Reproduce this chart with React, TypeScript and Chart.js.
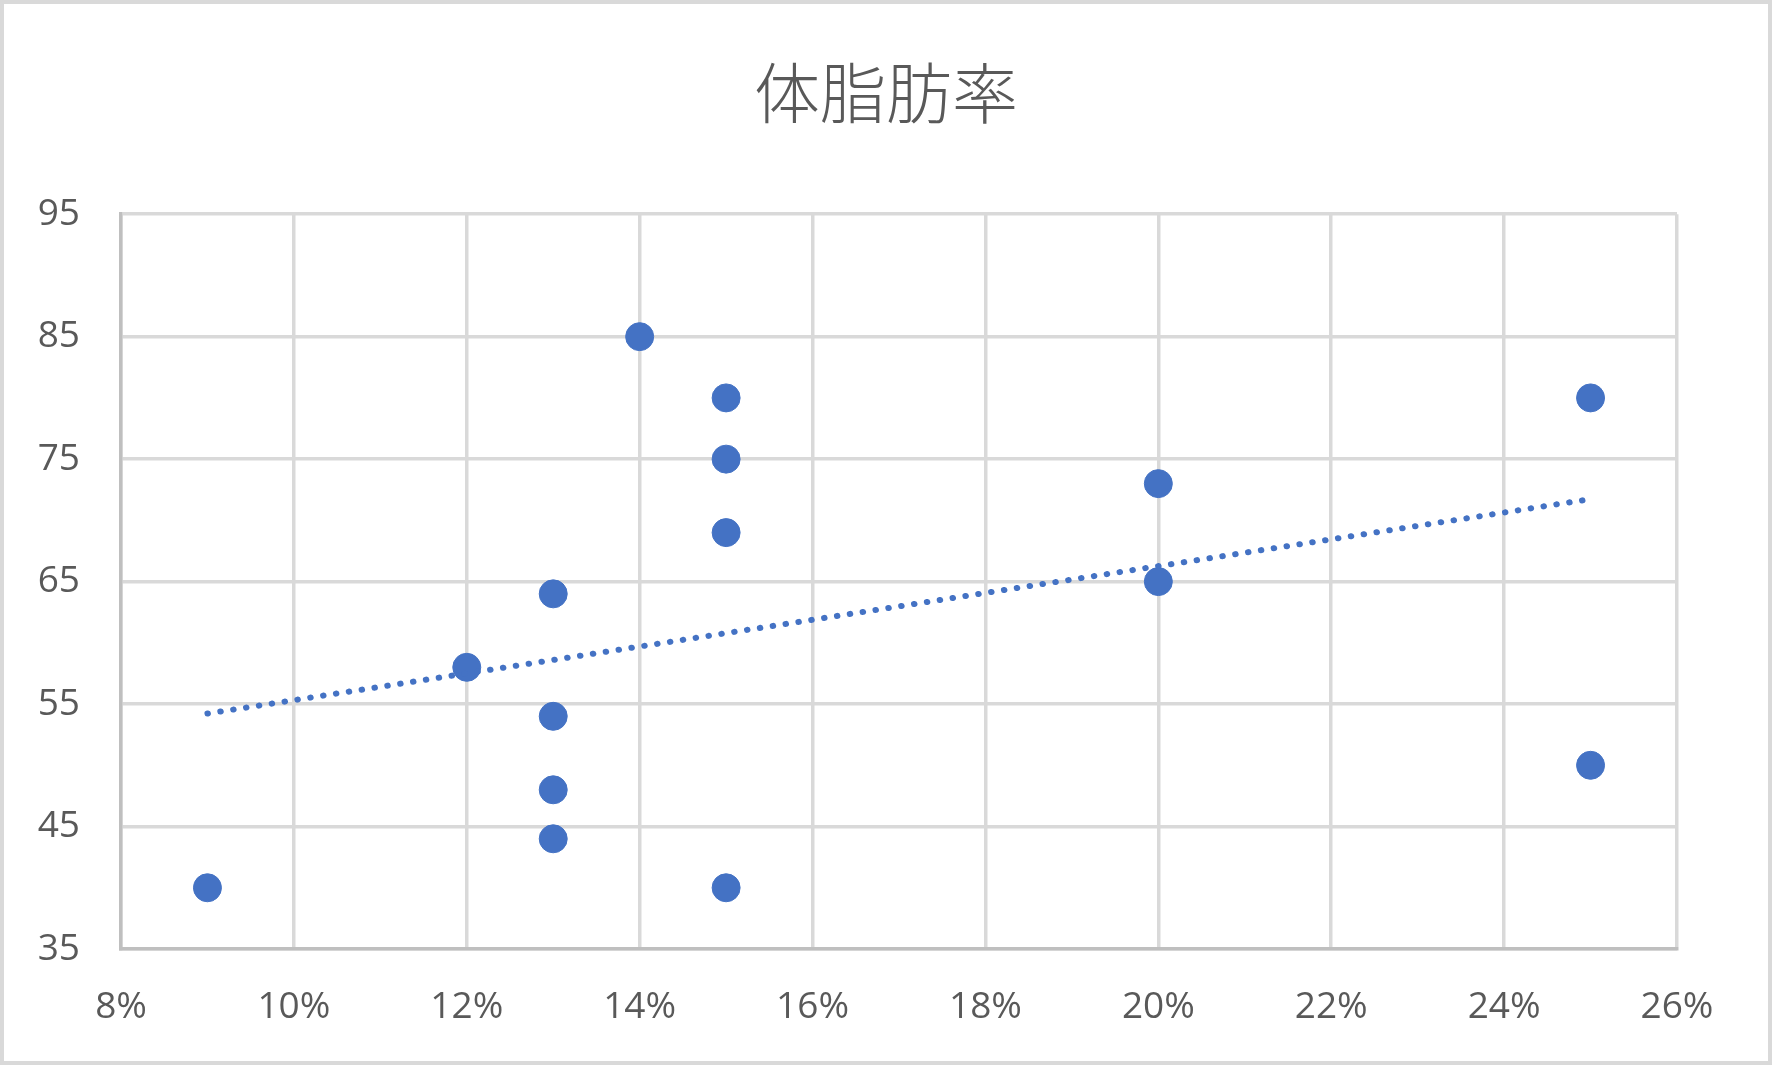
import { useEffect, useRef } from 'react';
import Chart from 'chart.js/auto';

const chartTitle = '体脂肪率';
// body fat (%) and score for each person
const bodyFat = [9, 12, 13, 13, 13, 13, 14, 15, 15, 15, 15, 20, 20, 25, 25];
const scores = [40, 58, 64, 54, 48, 44, 85, 80, 75, 69, 40, 73, 65, 80, 50];
const xTicks = [8, 10, 12, 14, 16, 18, 20, 22, 24, 26];
const yTicks = [35, 45, 55, 65, 75, 85, 95];

const blue = '#4472C4';
const textGray = '#595959';

// least squares line, like Excel's linear trendline
function trendLine(xs: number[], ys: number[]) {
  const n = xs.length;
  const mx = xs.reduce((a, b) => a + b, 0) / n;
  const my = ys.reduce((a, b) => a + b, 0) / n;
  let sxy = 0;
  let sxx = 0;
  for (let i = 0; i < n; i++) {
    sxy += (xs[i] - mx) * (ys[i] - my);
    sxx += (xs[i] - mx) * (xs[i] - mx);
  }
  const slope = sxy / sxx;
  const x0 = Math.min(...xs);
  const x1 = Math.max(...xs);
  return [
    { x: x0, y: my + slope * (x0 - mx) },
    { x: x1, y: my + slope * (x1 - mx) },
  ];
}

const ScatterChart = () => {
  const canvasRef = useRef<HTMLCanvasElement | null>(null);

  useEffect(() => {
    if (!canvasRef.current) return;
    const ctx = canvasRef.current.getContext('2d');
    if (!ctx) return;

    const points = bodyFat.map((x, i) => ({ x, y: scores[i] }));

    const chart = new Chart(ctx, {
      type: 'scatter',
      data: {
        datasets: [
          {
            type: 'line',
            label: 'trend',
            data: trendLine(bodyFat, scores),
            borderColor: blue,
            borderWidth: 6,
            borderDash: [0.5, 12.5],
            borderCapStyle: 'round',
            pointRadius: 0,
            fill: false,
          },
          {
            label: chartTitle,
            data: points,
            backgroundColor: blue,
            borderColor: blue,
            pointRadius: 14,
            pointHoverRadius: 14,
          },
        ],
      },
      options: {
        animation: false,
        responsive: false,
        layout: { padding: 0 },
        plugins: {
          legend: { display: false },
          tooltip: { enabled: false },
          title: {
            display: true,
            text: chartTitle,
            color: textGray,
            font: { family: '"Noto Sans CJK JP", sans-serif', size: 66, weight: 300, lineHeight: 1.2 },
            padding: { top: 49, bottom: 82 },
          },
        },
        scales: {
          x: {
            type: 'linear',
            min: xTicks[0],
            max: xTicks[xTicks.length - 1],
            afterBuildTicks: (scale) => {
              scale.ticks = xTicks.map((v) => ({ value: v }));
            },
            afterFit: (scale) => {
              scale.height = 112;
            },
            ticks: {
              color: textGray,
              font: { family: '"Open Sans", sans-serif', size: 37, lineHeight: 1.2 },
              padding: 36,
              maxRotation: 0,
              callback: (v) => `${v}%`,
            },
            grid: { color: '#d9d9d9', lineWidth: 3.5, drawTicks: false },
            border: { color: '#bfbfbf', width: 3.5 },
          },
          y: {
            type: 'linear',
            min: yTicks[0],
            max: yTicks[yTicks.length - 1],
            afterBuildTicks: (scale) => {
              scale.ticks = yTicks.map((v) => ({ value: v }));
            },
            afterFit: (scale) => {
              scale.width = 117;
            },
            ticks: {
              color: textGray,
              font: { family: '"Open Sans", sans-serif', size: 37, lineHeight: 1.2 },
              padding: 41,
            },
            grid: { color: '#d9d9d9', lineWidth: 3.5, drawTicks: false },
            border: { color: '#bfbfbf', width: 3.5 },
          },
          // empty right axis, only keeps the margin on the right side
          yRight: {
            type: 'linear',
            position: 'right',
            min: yTicks[0],
            max: yTicks[yTicks.length - 1],
            afterFit: (scale) => {
              scale.width = 91;
            },
            ticks: { display: false },
            grid: { display: false },
            border: { display: false },
          },
        },
      },
    });

    return () => {
      chart.destroy();
    };
  }, []);

  return <canvas ref={canvasRef} width={1764} height={1057} style={{ display: 'block' }} />;
};

export default function App() {
  return (
    <div
      style={{
        position: 'fixed',
        left: 0,
        top: 0,
        width: 1772,
        height: 1065,
        boxSizing: 'border-box',
        border: '4px solid #d9d9d9',
        background: '#fff',
      }}
    >
      <ScatterChart />
    </div>
  );
}
